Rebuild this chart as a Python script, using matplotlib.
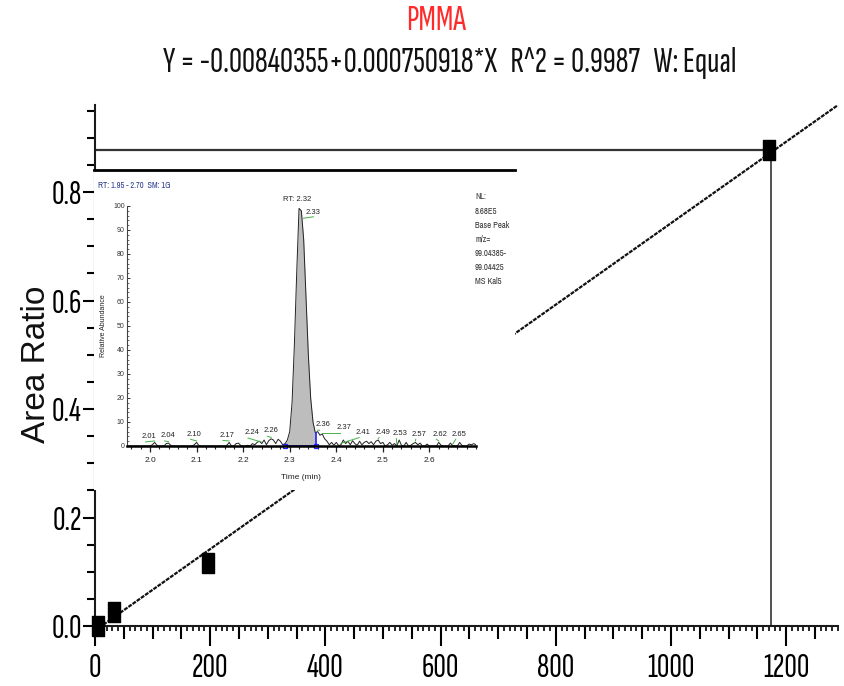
import matplotlib
matplotlib.use('Agg')
import matplotlib.pyplot as plt
from matplotlib.ticker import MultipleLocator, FixedLocator, NullFormatter
import numpy as np

# calibration data
conc = [5, 33, 196, 1171]
area_ratio = [0.0, 0.026, 0.1156, 0.877]
intercept = -0.00840355
slope = 0.000750918
fit_x = [0, 1290]
sample_x = 1173
sample_y = 0.877

# chromatogram inset (time grid 0.005 min, abundance)
rt_start, rt_end = 1.95, 2.70
abundance = [
    0, 0, 0, 0, 0, 0, 0, 0, 0, 0,            # 1.950 - 1.995
    0, 0.5, 1.5, 0.3, 0, 0, 0, 1.0, 1.2, 0.2,  # 2.000 - 2.045
    0, 0, 0, 0, 0, 0, 0, 0, 0, 0.5,          # 2.050 - 2.095
    1.5, 0.2, 0, 0, 0, 0, 0, 0, 0, 0,        # 2.100 - 2.145
    0, 0, 0, 0.3, 1.5, 0, 0, 1.0, 1.2, 0.2,  # 2.150 - 2.195
    0, 0, 0.3, 0, 1.0, 0.5, 1.5, 2.0, 1.0, 2.5,  # 2.200 - 2.245
    0.5, 2.2, 3.0, 2.5, 1.0, 2.8, 2.0, 0.5, 1.0, 2.5,  # 2.250 - 2.295
    6, 18, 42, 72, 99, 98, 86, 62, 38, 20,   # 2.300 - 2.345
    10, 5.5, 6, 4.5, 5, 3, 2, 0.5, 1.5, 0.3,  # 2.350 - 2.395
    1.5, 0.2, 0.5, 2.5, 1.0, 2.0, 0.5, 2.2, 1.0, 0.3,  # 2.400 - 2.445
    2.0, 0.5, 1.5, 2.0, 1.0, 1.8, 0.5, 2.0, 2.5, 1.0,  # 2.450 - 2.495
    1.5, 0, 0.5, 1.5, 0.3, 1.0, 0, 2.5, 0.3, 0,  # 2.500 - 2.545
    1.5, 0, 0.3, 1.0, 1.5, 0.5, 1.2, 0, 0, 0.8,  # 2.550 - 2.595
    0, 0, 0, 0, 1.5, 0.3, 0, 0, 0, 1.2,      # 2.600 - 2.645
    0.2, 0, 0, 1.5, 0.2, 0, 0, 0.8, 0.5, 1.0,  # 2.650 - 2.695
    0.5,                                     # 2.700
]
times = np.round(np.linspace(rt_start, rt_end, len(abundance)), 3)
peak_start, peak_end = 2.29, 2.356

peak_labels = ['2.01', '2.04', '2.10', '2.17', '2.24', '2.26', '2.36', '2.37',
               '2.41', '2.49', '2.53', '2.57', '2.62', '2.65']
peak_rt = [2.01, 2.04, 2.10, 2.17, 2.24, 2.26, 2.36, 2.37, 2.41, 2.49, 2.53, 2.57, 2.62, 2.65]
label_x = [1.9986, 2.0394, 2.0952, 2.1648, 2.2185, 2.26, 2.3723, 2.4168,
           2.457, 2.50, 2.537, 2.5786, 2.623, 2.6645]
label_y = [3.9, 4.3, 5.0, 4.5, 5.5, 6.25, 8.75, 7.8, 5.7, 5.7, 5.3, 5.0, 5.0, 5.0]
info_lines = ['NL:', '8.68E5', 'Base Peak', 'm/z=', '99.04385-', '99.04425', 'MS Kal5']

W, H = 844, 686
NARROW = ['Sofia Sans Extra Condensed', 'Archivo Narrow', 'Liberation Sans', 'DejaVu Sans']
SMALL = ['Archivo Narrow', 'Liberation Sans', 'DejaVu Sans']
ARIAL = ['Liberation Sans', 'DejaVu Sans']
plt.rcParams['font.family'] = ARIAL


def fx(px):
    return px / W


def fy(py):
    return 1 - py / H


fig = plt.figure(figsize=(W / 100, H / 100), dpi=100)

# main calibration axes
ax = fig.add_axes([fx(95), fy(626), (838 - 95) / W, (626 - 105.2) / H])
ax.set_xlim(0, 1290)
ax.set_ylim(0, 0.96)
for s in ['top', 'right']:
    ax.spines[s].set_visible(False)
for s in ['left', 'bottom']:
    ax.spines[s].set_linewidth(1.5)
    ax.spines[s].set_color('#1a1a1a')

ax.yaxis.set_major_locator(FixedLocator([0, 0.2, 0.4, 0.6, 0.8]))
ax.yaxis.set_minor_locator(MultipleLocator(0.05))
ax.set_yticklabels(['0.0', '0.2', '0.4', '0.6', '0.8'])
ax.tick_params(axis='y', which='major', length=8.6, width=1.5, pad=1, labelsize=25)
ax.tick_params(axis='y', which='minor', length=5.8, width=1.5)

ax.xaxis.set_major_locator(MultipleLocator(200))
ax.xaxis.set_minor_locator(MultipleLocator(10))
ax.tick_params(axis='x', which='major', length=14.4, width=1.5, pad=5, labelsize=25)
ax.tick_params(axis='x', which='minor', length=3.6, width=1.2)
for lab in ax.get_xticklabels() + ax.get_yticklabels():
    lab.set_family(NARROW)

# medium ticks every 50
sec = ax.secondary_xaxis('bottom')
sec.spines['bottom'].set_visible(False)
sec.xaxis.set_major_locator(FixedLocator([v for v in range(50, 1300, 50) if v % 200]))
sec.xaxis.set_major_formatter(NullFormatter())
sec.tick_params(axis='x', length=9.4, width=1.5)

fit_y = [intercept + slope * v for v in fit_x]
ax.plot(fit_x, fit_y, color='#111111', lw=1.6, ls=(0, (1.8, 0.5)), zorder=2)
ax.plot([0, sample_x], [sample_y, sample_y], color='#333333', lw=1.6, zorder=2)
ax.plot([sample_x, sample_x], [0, sample_y], color='#333333', lw=1.2, zorder=2)
rect = [(-0.6, -1), (0.6, -1), (0.6, 1), (-0.6, 1), (-0.6, -1)]
ax.plot(conc, area_ratio, ls='none', marker=rect, ms=14.4, color='black',
        clip_on=False, zorder=4)

fig.text(fx(37), fy(364), 'Area Ratio', rotation=90, ha='center', va='center',
         fontsize=24, color='#111111')

fig.text(fx(436), fy(21), 'PMMA', ha='center', va='center', fontsize=26,
         color='#ff2a2a', family=NARROW)
fig.text(fx(450), fy(63), 'Y = -0.00840355+0.000750918*X   R^2 = 0.9987   W: Equal',
         ha='center', va='center', fontsize=26, color='#111111', family=NARROW)

# white inset panel covering part of the plot
bg = fig.add_axes([fx(94), fy(490), (515 - 94) / W, (490 - 170) / H], zorder=5)
bg.set_xticks([])
bg.set_yticks([])
for s in ['left', 'right', 'bottom']:
    bg.spines[s].set_visible(False)
bg.spines['top'].set_linewidth(2)
bg.spines['top'].set_color('black')

fig.text(fx(98), fy(185), 'RT: 1.95 - 2.70  SM: 1G', fontsize=6, color='#2b3b8f',
         va='center', zorder=6, family=SMALL)
for i, line in enumerate(info_lines):
    fig.text(fx(475), fy(197 + 14.1 * i), line, fontsize=6.2, color='#333333',
             va='center', zorder=6, family=SMALL)

ins = fig.add_axes([fx(126.7), fy(446), (476 - 126.7) / W, 240 / H], zorder=6)
ins.patch.set_alpha(0)
ins.set_xlim(rt_start, rt_end)
ins.set_ylim(0, 100)
ins.spines['top'].set_visible(False)
ins.spines['right'].set_visible(False)
ins.spines['left'].set_linewidth(0.8)
ins.spines['left'].set_color('#444444')
ins.spines['bottom'].set_linewidth(1.8)
ins.spines['bottom'].set_color('black')
ins.xaxis.set_major_locator(FixedLocator([2.0, 2.1, 2.2, 2.3, 2.4, 2.5, 2.6]))
ins.set_xticklabels(['2.0', '2.1', '2.2', '2.3', '2.4', '2.5', '2.6'])
ins.xaxis.set_minor_locator(MultipleLocator(0.02))
ins.yaxis.set_major_locator(MultipleLocator(10))
ins.yaxis.set_minor_locator(MultipleLocator(2))
ins.tick_params(axis='x', which='major', direction='out', length=4, width=0.9,
                labelsize=6, pad=4, colors='#222222')
ins.tick_params(axis='x', which='minor', direction='out', length=2.5, width=0.8,
                colors='#222222')
ins.tick_params(axis='y', which='major', direction='in', length=2.5, width=0.7,
                labelsize=5, pad=1.5, colors='#333333')
ins.tick_params(axis='y', which='minor', direction='in', length=1.5, width=0.5,
                colors='#333333')
ins.set_xlabel('Time (min)', fontsize=6, labelpad=7, color='#222222')
ins.set_ylabel('Relative Abundance', fontsize=5, labelpad=4, color='#222222')

t = np.array(times)
a = np.array(abundance)
mask = (t >= peak_start - 1e-9) & (t <= peak_end + 1e-9)
ins.fill_between(t[mask], 0, a[mask], color='#bdbdbd', lw=0)
ins.plot(t, a, color='#222222', lw=0.7)
top = np.interp(peak_end, t, a)
ins.plot([peak_start, peak_end, peak_end], [0, 0, top], color='#1f1fff', lw=1.2)
ins.plot([peak_start, peak_end], [0, 0], ls='none', marker='s', ms=3.5, mfc='none',
         mec='#1f1fff', mew=0.9, clip_on=False)

green = '#44b044'
for lab, rt, lx, ly in zip(peak_labels, peak_rt, label_x, label_y):
    ins.text(lx, ly, lab, fontsize=5.5, ha='center', va='center', color='#222222')
    yp = np.interp(rt, t, a)
    ins.plot([lx - 0.008, rt], [ly - 2.2, yp + 0.6], color=green, lw=0.7)

ins.text(2.315, 102.8, 'RT: 2.32', fontsize=5.5, ha='center', va='center',
         color='#222222', clip_on=False)
ins.text(2.3496, 97.2, '2.33', fontsize=5.5, ha='center', va='center', color='#222222',
         clip_on=False)
ins.plot([2.3294, 2.3509], [94.9, 95.5], color=green, lw=0.7, clip_on=False)

fig.savefig('out.png', dpi=100)
